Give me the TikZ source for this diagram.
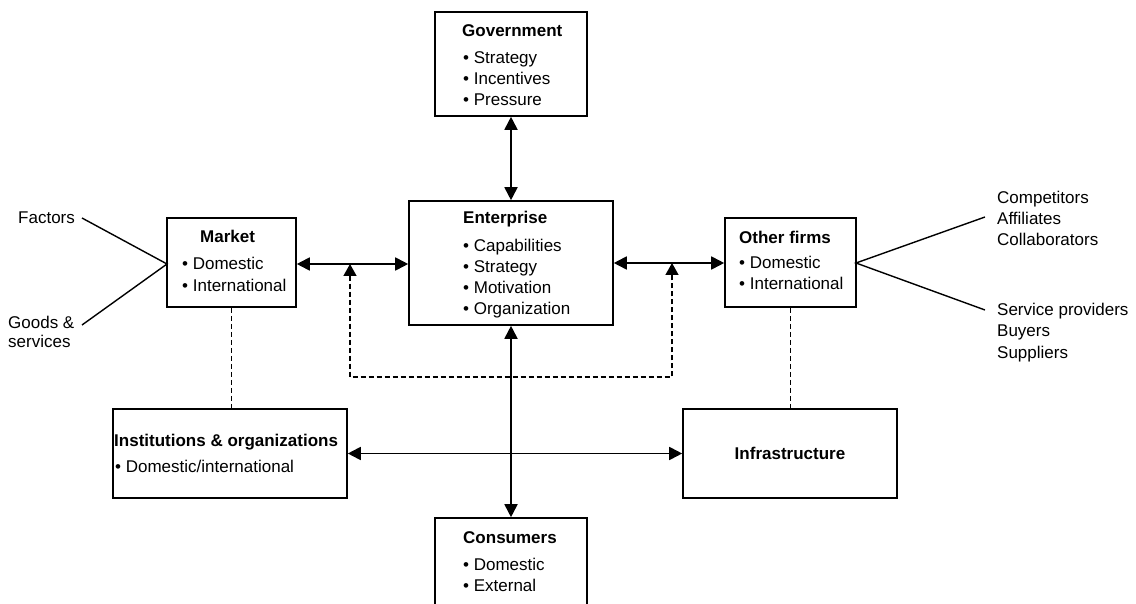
\documentclass[tikz,border=0pt]{standalone}
\usepackage{fontspec}
\setmainfont{Liberation Sans}
\usetikzlibrary{arrows.meta}
\begin{document}
\begin{tikzpicture}[x=1pt,y=-1pt,
  box/.style={draw, line width=1.6pt, inner sep=0pt},
  txt/.style={anchor=base west, inner sep=0pt, font=\fontsize{17}{21}\selectfont},
  ttl/.style={txt, font=\fontsize{17}{21}\selectfont\bfseries},
  link/.style={line width=1.8pt},
  biarrow/.style={link, {Triangle[length=13pt,width=13pt]}-{Triangle[length=13pt,width=13pt]}},
  dashline/.style={line width=1.4pt, dash pattern=on 5pt off 3pt},
  dasharrow/.style={dashline, {Triangle[length=12pt,width=13pt]}-{Triangle[length=12pt,width=13pt]}}
]
\clip (0,0) rectangle (1136,604);
\fill[white] (0,0) rectangle (1136,604);

% boxes
\node[box, minimum width=152pt, minimum height=104pt] (gov) at (511,64) {};
\node[box, minimum width=204pt, minimum height=124pt] (ent) at (511,263) {};
\node[box, minimum width=129pt, minimum height=89pt] (mkt) at (231.5,262.5) {};
\node[box, minimum width=131pt, minimum height=89pt] (oth) at (790.5,262.5) {};
\node[box, minimum width=234pt, minimum height=89pt] (ins) at (230,453.5) {};
\node[box, minimum width=214pt, minimum height=89pt] (inf) at (790,453.5) {};
\node[box, minimum width=152pt, minimum height=122pt] (con) at (511,579) {};

% texts
\node[ttl] (govt) at (462,37) {Government};
\node[txt] (gov1) at (463,64) {• Strategy};
\node[txt] (gov2) at (463,85) {• Incentives};
\node[txt] (gov3) at (463,106) {• Pressure};

\node[ttl] (entt) at (463,224) {Enterprise};
\node[txt] (ent1) at (463,252) {• Capabilities};
\node[txt] (ent2) at (463,273) {• Strategy};
\node[txt] (ent3) at (463,294) {• Motivation};
\node[txt] (ent4) at (463,315) {• Organization};

\node[ttl] (mktt) at (200,243) {Market};
\node[txt] (mkt1) at (182,270) {• Domestic};
\node[txt] (mkt2) at (182,291) {• International};

\node[ttl] (otht) at (739,244) {Other firms};
\node[txt] (oth1) at (739,269) {• Domestic};
\node[txt] (oth2) at (739,290) {• International};

\node[ttl] (inst) at (114,446) {Institutions \& organizations};
\node[txt] (ins1) at (115,472) {• Domestic/international};

\node[ttl, anchor=base] (inft) at (790,459) {Infrastructure};

\node[ttl] (cont) at (463,543) {Consumers};
\node[txt] (con1) at (463,570) {• Domestic};
\node[txt] (con2) at (463,591) {• External};

\node[txt] (fac) at (18,224) {Factors};
\node[txt] (goods) at (8,328) {Goods \&};
\node[txt] (serv) at (8,348) {services};

\node[txt] (comp) at (997,204) {Competitors};
\node[txt] (aff) at (997,225) {Affiliates};
\node[txt] (coll) at (997,246) {Collaborators};
\node[txt] (sp) at (997,316) {Service providers};
\node[txt] (buy) at (997,337) {Buyers};
\node[txt] (sup) at (997,358) {Suppliers};

% coordinates for free ends
\coordinate (facE) at (82,218);
\coordinate (goodsE) at (82,325);
\coordinate (compE) at (985,217);
\coordinate (spE) at (985,310);
\coordinate (mktin) at (167,264);
\coordinate (othout) at (856,263);
\coordinate (dl) at (350,264);
\coordinate (dr) at (672,263);
\coordinate (dlb) at (350,377);
\coordinate (drb) at (672,377);

% solid connectors
\draw[biarrow] (gov.south) -- (ent.north);
\draw[biarrow] (ent.south) -- (con.north);
\draw[biarrow] (mkt.east |- mktin) -- (ent.west |- mktin);
\draw[biarrow] (ent.east |- othout) -- (oth.west |- othout);
\draw[biarrow] (ins.east) -- (inf.west);

\draw[line width=1.4pt] (facE) -- (mktin) -- (goodsE);
\draw[line width=1.4pt] (compE) -- (othout) -- (spE);

% dashed
\draw[dasharrow] (dl) -- (dlb) -- (drb) -- (dr);
\draw[dashline] (mkt.south) -- (mkt.south |- ins.north);
\draw[dashline] (oth.south) -- (oth.south |- inf.north);
\end{tikzpicture}
\end{document}
